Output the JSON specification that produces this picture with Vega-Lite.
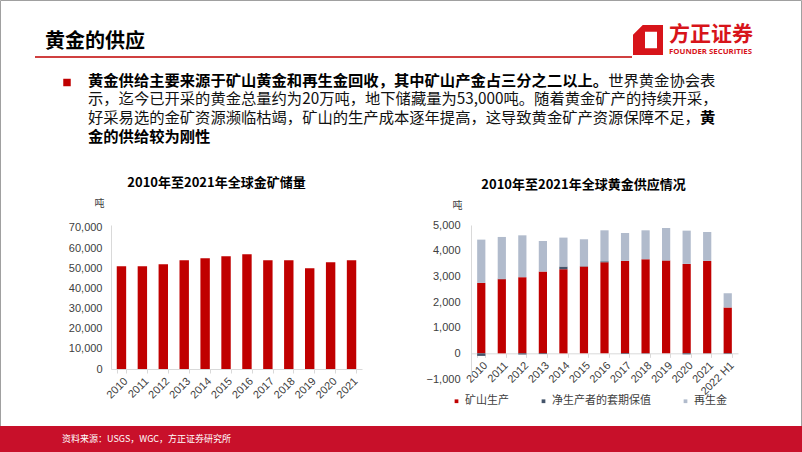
{
  "$schema": "https://vega.github.io/schema/vega-lite/v6.json",
  "padding": 0,
  "spacing": 0,
  "bounds": "flush",
  "background": "#FFFFFF",
  "config": {
    "view": {"stroke": null},
    "font": "Noto Sans CJK SC",
    "axis": {
      "labelFont": "Liberation Sans",
      "labelFontSize": 11,
      "labelColor": "#404040",
      "domainColor": "#D9D9D9",
      "tickColor": "#D9D9D9",
      "grid": false,
      "titleFont": "Noto Sans CJK SC",
      "titleFontWeight": "normal",
      "titleFontSize": 10,
      "titleColor": "#404040"
    },
    "title": {"font": "Noto Sans CJK SC", "fontSize": 13, "fontWeight": "bold", "color": "#000000"},
    "legend": {"labelFont": "Noto Sans CJK SC", "labelFontSize": 11, "labelColor": "#404040"}
  },
  "hconcat": [
    {
      "width": 111,
      "height": 154,
      "data": {"values": [{}]},
      "layer": [
        {"mark": {"type": "rect", "fill": "#FFFFFF", "stroke": "#A0A0A0", "strokeWidth": 1, "opacity": 1},
         "encoding": {"x": {"value": 0.5}, "x2": {"value": 801.5}, "y": {"value": -224.5}, "y2": {"value": 226.5}}},
        {"mark": {"type": "text", "text": "黄金的供应", "fontSize": 20, "fontWeight": "bold", "align": "left", "baseline": "middle", "color": "#000000"},
         "encoding": {"x": {"value": 45}, "y": {"value": -183}}},
        {"mark": {"type": "rule", "color": "#C00000", "strokeWidth": 1.5},
         "encoding": {"x": {"value": 35}, "x2": {"value": 632}, "y": {"value": -168}}},
        {"mark": {"type": "point", "shape": "M -1 -0.35 L -0.35 -1 L 1 -1 L 1 1 L -1 1 Z M -0.2 -0.55 L -0.2 0.55 L 0.6 0.55 L 0.6 -0.55 Z", "filled": true, "size": 900, "color": "#D7141A", "opacity": 1},
         "encoding": {"x": {"value": 648}, "y": {"value": -185}}},
        {"mark": {"type": "text", "text": "方正证券", "fontSize": 21, "fontWeight": "bold", "align": "left", "baseline": "middle", "color": "#D7141A"},
         "encoding": {"x": {"value": 669}, "y": {"value": -190}}},
        {"mark": {"type": "text", "text": "FOUNDER SECURITIES", "font": "Open Sans", "fontSize": 7.8, "fontWeight": "bold", "align": "left", "baseline": "middle", "color": "#D7141A"},
         "encoding": {"x": {"value": 669}, "y": {"value": -173.5}}},
        {"mark": {"type": "point", "shape": "square", "filled": true, "size": 56, "color": "#C00000", "opacity": 1},
         "encoding": {"x": {"value": 67}, "y": {"value": -142.5}}},
        {"mark": {"type": "text", "text": "黄金供给主要来源于矿山黄金和再生金回收，其中矿山产金占三分之二以上。", "fontSize": 15.3, "fontWeight": "bold", "align": "left", "baseline": "middle", "color": "#000000"},
         "encoding": {"x": {"value": 88}, "y": {"value": -144.2}}},
        {"mark": {"type": "text", "text": "世界黄金协会表", "fontSize": 15.3, "fontWeight": "normal", "align": "left", "baseline": "middle", "color": "#111111"},
         "encoding": {"x": {"value": 608.2}, "y": {"value": -144.2}}},
        {"mark": {"type": "text", "text": "示，迄今已开采的黄金总量约为20万吨，地下储藏量为53,000吨。随着黄金矿产的持续开采，", "fontSize": 15.3, "fontWeight": "normal", "align": "left", "baseline": "middle", "color": "#111111"},
         "encoding": {"x": {"value": 88}, "y": {"value": -125.6}}},
        {"mark": {"type": "text", "text": "好采易选的金矿资源濒临枯竭，矿山的生产成本逐年提高，这导致黄金矿产资源保障不足，", "fontSize": 15.3, "fontWeight": "normal", "align": "left", "baseline": "middle", "color": "#111111"},
         "encoding": {"x": {"value": 88}, "y": {"value": -107}}},
        {"mark": {"type": "text", "text": "黄", "fontSize": 15.3, "fontWeight": "bold", "align": "left", "baseline": "middle", "color": "#000000"},
         "encoding": {"x": {"value": 700}, "y": {"value": -107}}},
        {"mark": {"type": "text", "text": "金的供给较为刚性", "fontSize": 15.3, "fontWeight": "bold", "align": "left", "baseline": "middle", "color": "#000000"},
         "encoding": {"x": {"value": 88}, "y": {"value": -88.4}}},
        {"mark": {"type": "rect", "color": "#C8102A", "opacity": 1},
         "encoding": {"x": {"value": 0}, "x2": {"value": 802}, "y": {"value": 201}, "y2": {"value": 227}}},
        {"mark": {"type": "text", "text": "资料来源：USGS，WGC，方正证券研究所", "fontSize": 9, "align": "left", "baseline": "middle", "color": "#FFFFFF"},
         "encoding": {"x": {"value": 62}, "y": {"value": 213.5}}}
      ]
    },
    {
      "width": 251,
      "height": 144,
      "title": {"text": "2010年至2021年全球金矿储量", "dx": -20, "offset": 8},
      "data": {"values": [
        {"year": "2010", "reserve": 51000},
        {"year": "2011", "reserve": 51000},
        {"year": "2012", "reserve": 52000},
        {"year": "2013", "reserve": 54000},
        {"year": "2014", "reserve": 55000},
        {"year": "2015", "reserve": 56000},
        {"year": "2016", "reserve": 57000},
        {"year": "2017", "reserve": 54000},
        {"year": "2018", "reserve": 54000},
        {"year": "2019", "reserve": 50000},
        {"year": "2020", "reserve": 53000},
        {"year": "2021", "reserve": 54000}
      ]},
      "mark": {"type": "bar", "color": "#C00000"},
      "encoding": {
        "x": {"field": "year", "type": "nominal", "sort": null,
              "scale": {"paddingInner": 0.55, "paddingOuter": 0.275},
              "axis": {"title": null, "labelAngle": -45, "labelAlign": "right", "labelBaseline": "top", "tickBand": "extent", "tickSize": 4, "labelPadding": 2}},
        "y": {"field": "reserve", "type": "quantitative",
              "scale": {"domain": [0, 71489], "nice": false},
              "axis": {"values": [0, 10000, 20000, 30000, 40000, 50000, 60000, 70000], "format": ",d", "ticks": false, "labelPadding": 9,
                       "title": "吨", "titleAngle": 0, "titleX": -12, "titleY": -22, "titleAlign": "center", "titleBaseline": "middle"}}
      }
    },
    {"width": 109, "height": 154, "data": {"values": [{}]}, "mark": {"type": "point", "opacity": 0}},
    {
      "width": 267,
      "height": 154,
      "title": {"text": "2010年至2021年全球黄金供应情况", "dx": -21, "offset": 8},
      "data": {"values": [
        {"year": "2010", "type": "矿山生产", "tonnes": 2745},
        {"year": "2010", "type": "净生产者的套期保值", "tonnes": -100},
        {"year": "2010", "type": "再生金", "tonnes": 1685},
        {"year": "2011", "type": "矿山生产", "tonnes": 2889},
        {"year": "2011", "type": "净生产者的套期保值", "tonnes": 20},
        {"year": "2011", "type": "再生金", "tonnes": 1625},
        {"year": "2012", "type": "矿山生产", "tonnes": 2966},
        {"year": "2012", "type": "净生产者的套期保值", "tonnes": -45},
        {"year": "2012", "type": "再生金", "tonnes": 1632},
        {"year": "2013", "type": "矿山生产", "tonnes": 3187},
        {"year": "2013", "type": "净生产者的套期保值", "tonnes": -28},
        {"year": "2013", "type": "再生金", "tonnes": 1190},
        {"year": "2014", "type": "矿山生产", "tonnes": 3277},
        {"year": "2014", "type": "净生产者的套期保值", "tonnes": 105},
        {"year": "2014", "type": "再生金", "tonnes": 1127},
        {"year": "2015", "type": "矿山生产", "tonnes": 3381},
        {"year": "2015", "type": "净生产者的套期保值", "tonnes": 13},
        {"year": "2015", "type": "再生金", "tonnes": 1050},
        {"year": "2016", "type": "矿山生产", "tonnes": 3549},
        {"year": "2016", "type": "净生产者的套期保值", "tonnes": 38},
        {"year": "2016", "type": "再生金", "tonnes": 1206},
        {"year": "2017", "type": "矿山生产", "tonnes": 3601},
        {"year": "2017", "type": "净生产者的套期保值", "tonnes": -26},
        {"year": "2017", "type": "再生金", "tonnes": 1088},
        {"year": "2018", "type": "矿山生产", "tonnes": 3666},
        {"year": "2018", "type": "净生产者的套期保值", "tonnes": -12},
        {"year": "2018", "type": "再生金", "tonnes": 1127},
        {"year": "2019", "type": "矿山生产", "tonnes": 3614},
        {"year": "2019", "type": "净生产者的套期保值", "tonnes": 6},
        {"year": "2019", "type": "再生金", "tonnes": 1263},
        {"year": "2020", "type": "矿山生产", "tonnes": 3485},
        {"year": "2020", "type": "净生产者的套期保值", "tonnes": -39},
        {"year": "2020", "type": "再生金", "tonnes": 1295},
        {"year": "2021", "type": "矿山生产", "tonnes": 3601},
        {"year": "2021", "type": "净生产者的套期保值", "tonnes": -6},
        {"year": "2021", "type": "再生金", "tonnes": 1127},
        {"year": "2022 H1", "type": "矿山生产", "tonnes": 1788},
        {"year": "2022 H1", "type": "净生产者的套期保值", "tonnes": -20},
        {"year": "2022 H1", "type": "再生金", "tonnes": 557}
      ]},
      "mark": {"type": "bar"},
      "encoding": {
        "x": {"field": "year", "type": "nominal", "sort": null,
              "scale": {"paddingInner": 0.6, "paddingOuter": 0.3},
              "axis": {"title": null, "offset": -25.67, "labelAngle": -45, "labelAlign": "right", "labelBaseline": "top", "tickBand": "extent", "tickSize": 4, "labelPadding": 2}},
        "y": {"field": "tonnes", "type": "quantitative", "stack": "zero",
              "scale": {"domain": [-1000, 5000], "nice": false},
              "axis": {"values": [-1000, 0, 1000, 2000, 3000, 4000, 5000], "format": ",d", "ticks": false, "labelPadding": 11,
                       "title": "吨", "titleAngle": 0, "titleX": -14, "titleY": -20, "titleAlign": "center", "titleBaseline": "middle"}},
        "color": {"field": "type", "type": "nominal",
                  "sort": ["矿山生产", "净生产者的套期保值", "再生金"],
                  "scale": {"domain": ["矿山生产", "净生产者的套期保值", "再生金"], "range": ["#C00000", "#44546A", "#B1BBCC"]},
                  "legend": {"title": null, "orient": "none", "legendX": 451, "legendY": 170.5, "direction": "horizontal", "symbolType": "square", "symbolSize": 14, "labelOffset": 3, "columnPadding": 29}}
      }
    },
    {"width": 64, "height": 154, "data": {"values": [{}]}, "mark": {"type": "point", "opacity": 0}}
  ]
}
